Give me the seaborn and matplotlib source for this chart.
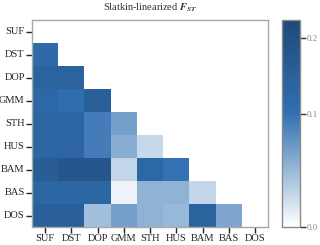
import matplotlib
matplotlib.use("Agg")

import matplotlib.pyplot as plt
import numpy as np
import pandas as pd
import seaborn as sns
from matplotlib.colors import LinearSegmentedColormap, PowerNorm

# ── Data: pairwise Slatkin-linearized Fst (lower triangle) ──
pops = ["SUF", "DST", "DOP", "GMM", "STH", "HUS", "BAM", "BAS", "DOS"]
row_dst = [0.120]
row_dop = [0.140, 0.140]
row_gmm = [0.125, 0.110, 0.150]
row_sth = [0.130, 0.130, 0.090, 0.060]
row_hus = [0.130, 0.135, 0.090, 0.048, 0.018]
row_bam = [0.160, 0.180, 0.180, 0.020, 0.125, 0.100]
row_bas = [0.130, 0.130, 0.130, 0.004, 0.045, 0.045, 0.020]
row_dos = [0.150, 0.150, 0.035, 0.060, 0.045, 0.040, 0.140, 0.055]
rows = [[], row_dst, row_dop, row_gmm, row_sth, row_hus, row_bam, row_bas, row_dos]

n = len(pops)
mat = np.full((n, n), np.nan)
for i, vals in enumerate(rows):
    mat[i, :len(vals)] = vals
df = pd.DataFrame(mat, index=pops, columns=pops)
mask = np.triu(np.ones((n, n), dtype=bool))

sns.set_theme(style="ticks")
plt.rcParams["font.family"] = ["Liberation Serif", "DejaVu Serif"]
plt.rcParams["mathtext.fontset"] = "stix"

cmap = LinearSegmentedColormap.from_list(
    "fst", [(0.0, "#ffffff"), (0.55, "#3170b2"), (1.0, "#1f4a78")])
norm = PowerNorm(gamma=0.75, vmin=0.0, vmax=0.225)

fig = plt.figure(figsize=(3.2, 2.45), dpi=100)
ax = fig.add_axes([0.10, 0.073, 0.738, 0.845])
cax = fig.add_axes([0.882, 0.073, 0.056, 0.845])

sns.heatmap(df, mask=mask, cmap=cmap, norm=norm, ax=ax, cbar_ax=cax,
            square=False, cbar_kws={"ticks": [0.0, 0.1, 0.2]})

for s in ax.spines.values():
    s.set_visible(True)
    s.set_color("#a8a8a8")
    s.set_linewidth(1.0)
ax.tick_params(axis="both", length=4.5, width=1, color="#222222", labelsize=7.5,
               pad=0.8, labelcolor="#222222")
ax.set_xticklabels(pops, rotation=0)
ax.set_yticklabels(pops, rotation=0)
ax.set_title(r"Slatkin-linearized $\mathbfit{F}_{\mathbfit{ST}}$", fontsize=7.5,
             color="#333333", pad=7)

cb = ax.collections[0].colorbar
cb.outline.set_visible(True)
cb.outline.set_edgecolor("#8a8a8a")
cb.outline.set_linewidth(1.0)
cax.tick_params(length=4, width=1, color="#333333", labelsize=6.5,
                labelcolor="#888888", pad=1)
cax.set_yticklabels(["0.0", "0.1", "0.2"])

plt.savefig("out.png", dpi=100)
plt.close()
